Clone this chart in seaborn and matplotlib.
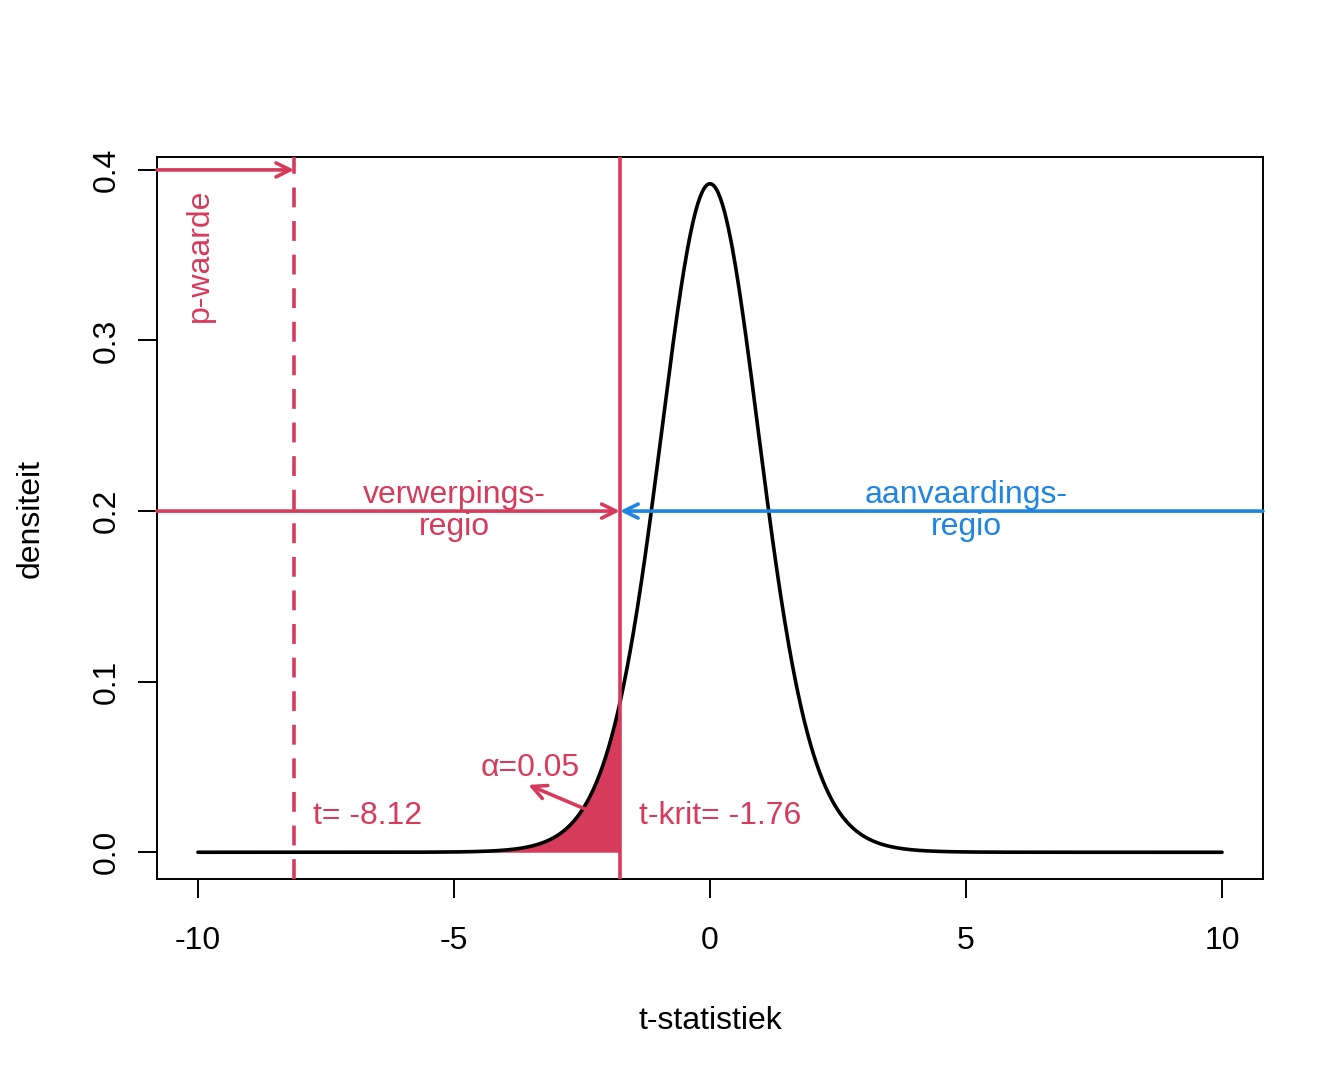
import math
import numpy as np
import pandas as pd
import matplotlib
matplotlib.use("Agg")
import matplotlib.pyplot as plt
import seaborn as sns

# ---- data ----
df_t = 14                      # degrees of freedom of the t distribution
t_obs = -8.12                  # observed t statistic
t_crit = -1.76                 # critical t value
alpha = 0.05
x_range = [-10, 10]
x_ticks = [-10, -5, 0, 5, 10]
y_ticks = [0.0, 0.1, 0.2, 0.3, 0.4]
y_tick_labels = ["0.0", "0.1", "0.2", "0.3", "0.4"]
label_reject = "verwerpings-\nregio"
label_accept = "aanvaardings-\nregio"
label_p = "p-waarde"
label_t = "t= -8.12"
label_tcrit = "t-krit= -1.76"
label_alpha = "α=0.05"
x_label = "t-statistiek"
y_label = "densiteit"

def t_pdf(x, v):
    c = math.gamma((v + 1) / 2) / (math.sqrt(v * math.pi) * math.gamma(v / 2))
    return c * (1 + x ** 2 / v) ** (-(v + 1) / 2)

xs = np.linspace(x_range[0], x_range[1], 1001)
curve = pd.DataFrame({"t": xs, "dens": t_pdf(xs, df_t)})

RED = "#D63B5C"
BLUE = "#1F85E0"

sns.set_theme(style="white")
plt.rcParams["font.family"] = ["Liberation Sans", "DejaVu Sans"]

fig = plt.figure(figsize=(13.44, 10.75), dpi=100)
ax = fig.add_axes([157 / 1344, 1 - 879 / 1075, (1263 - 157) / 1344, (879 - 157) / 1075])

ymax = curve["dens"].max()
xpad = 0.04 * (x_range[1] - x_range[0])
ypad = 0.04 * ymax
xlim = (x_range[0] - xpad, x_range[1] + xpad)
ylim = (-ypad, ymax + ypad)

LW = 2.6

# shaded rejection area
tail = curve[curve["t"] <= t_crit]
ax.fill_between(np.append(tail["t"].values, t_crit),
                np.append(tail["dens"].values, t_pdf(t_crit, df_t)),
                0, color=RED, linewidth=0, zorder=2)

sns.lineplot(data=curve, x="t", y="dens", color="black", linewidth=LW, ax=ax, zorder=3)

# vertical lines
ax.axvline(t_crit, color=RED, linewidth=LW, zorder=4)
ax.axvline(t_obs, color=RED, linewidth=LW, linestyle=(0, (5.5, 3.8)), zorder=4)

arrow_kw = dict(arrowstyle="->,head_length=0.85,head_width=0.42", linewidth=LW,
                shrinkA=0, shrinkB=0)
# p-value arrow
ax.annotate("", xy=(t_obs, 0.4), xytext=(xlim[0], 0.4),
            arrowprops=dict(color=RED, **arrow_kw), zorder=5)
# rejection region arrow
ax.annotate("", xy=(t_crit, 0.2), xytext=(xlim[0], 0.2),
            arrowprops=dict(color=RED, **arrow_kw), zorder=5)
# acceptance region arrow
ax.annotate("", xy=(t_crit, 0.2), xytext=(xlim[1], 0.2),
            arrowprops=dict(color=BLUE, **arrow_kw), zorder=5)
# alpha arrow
ax.annotate("", xy=(-3.55, 0.0395), xytext=(-2.45, 0.0255),
            arrowprops=dict(color=RED, **arrow_kw), zorder=5)

fs = 23
ax.text(-5, 0.2, label_reject, color=RED, fontsize=fs, ha="center", va="center",
        linespacing=1.1, zorder=6)
ax.text(5, 0.2, label_accept, color=BLUE, fontsize=fs, ha="center", va="center",
        linespacing=1.1, zorder=6)
ax.text(-9.96, 0.35, label_p, color=RED, fontsize=fs, rotation=90,
        ha="center", va="center", zorder=6)
ax.text(-7.75, 0.0215, label_t, color=RED, fontsize=fs, ha="left", va="center", zorder=6)
ax.text(-1.38, 0.0215, label_tcrit, color=RED, fontsize=fs, ha="left", va="center", zorder=6)
ax.text(-3.52, 0.0495, label_alpha, color=RED, fontsize=fs, ha="center", va="center", zorder=6)

ax.set_xlim(*xlim)
ax.set_ylim(*ylim)
ax.set_xticks(x_ticks)
ax.set_xticklabels([str(v) for v in x_ticks])
ax.set_yticks(y_ticks)
ax.set_yticklabels(y_tick_labels, rotation=90, va="center")
ax.tick_params(axis="both", direction="out", length=13.5, width=1.4, color="black",
               labelsize=fs, labelcolor="black", pad=12, left=True, bottom=True)
ax.tick_params(axis="x", pad=20)
for s in ax.spines.values():
    s.set_visible(True)
    s.set_color("black")
    s.set_linewidth(1.4)
ax.set_xlabel(x_label, fontsize=fs, color="black", labelpad=36)
ax.set_ylabel(y_label, fontsize=fs, color="black", labelpad=33)
ax.grid(False)

fig.savefig("out.png", dpi=100, facecolor="white")
